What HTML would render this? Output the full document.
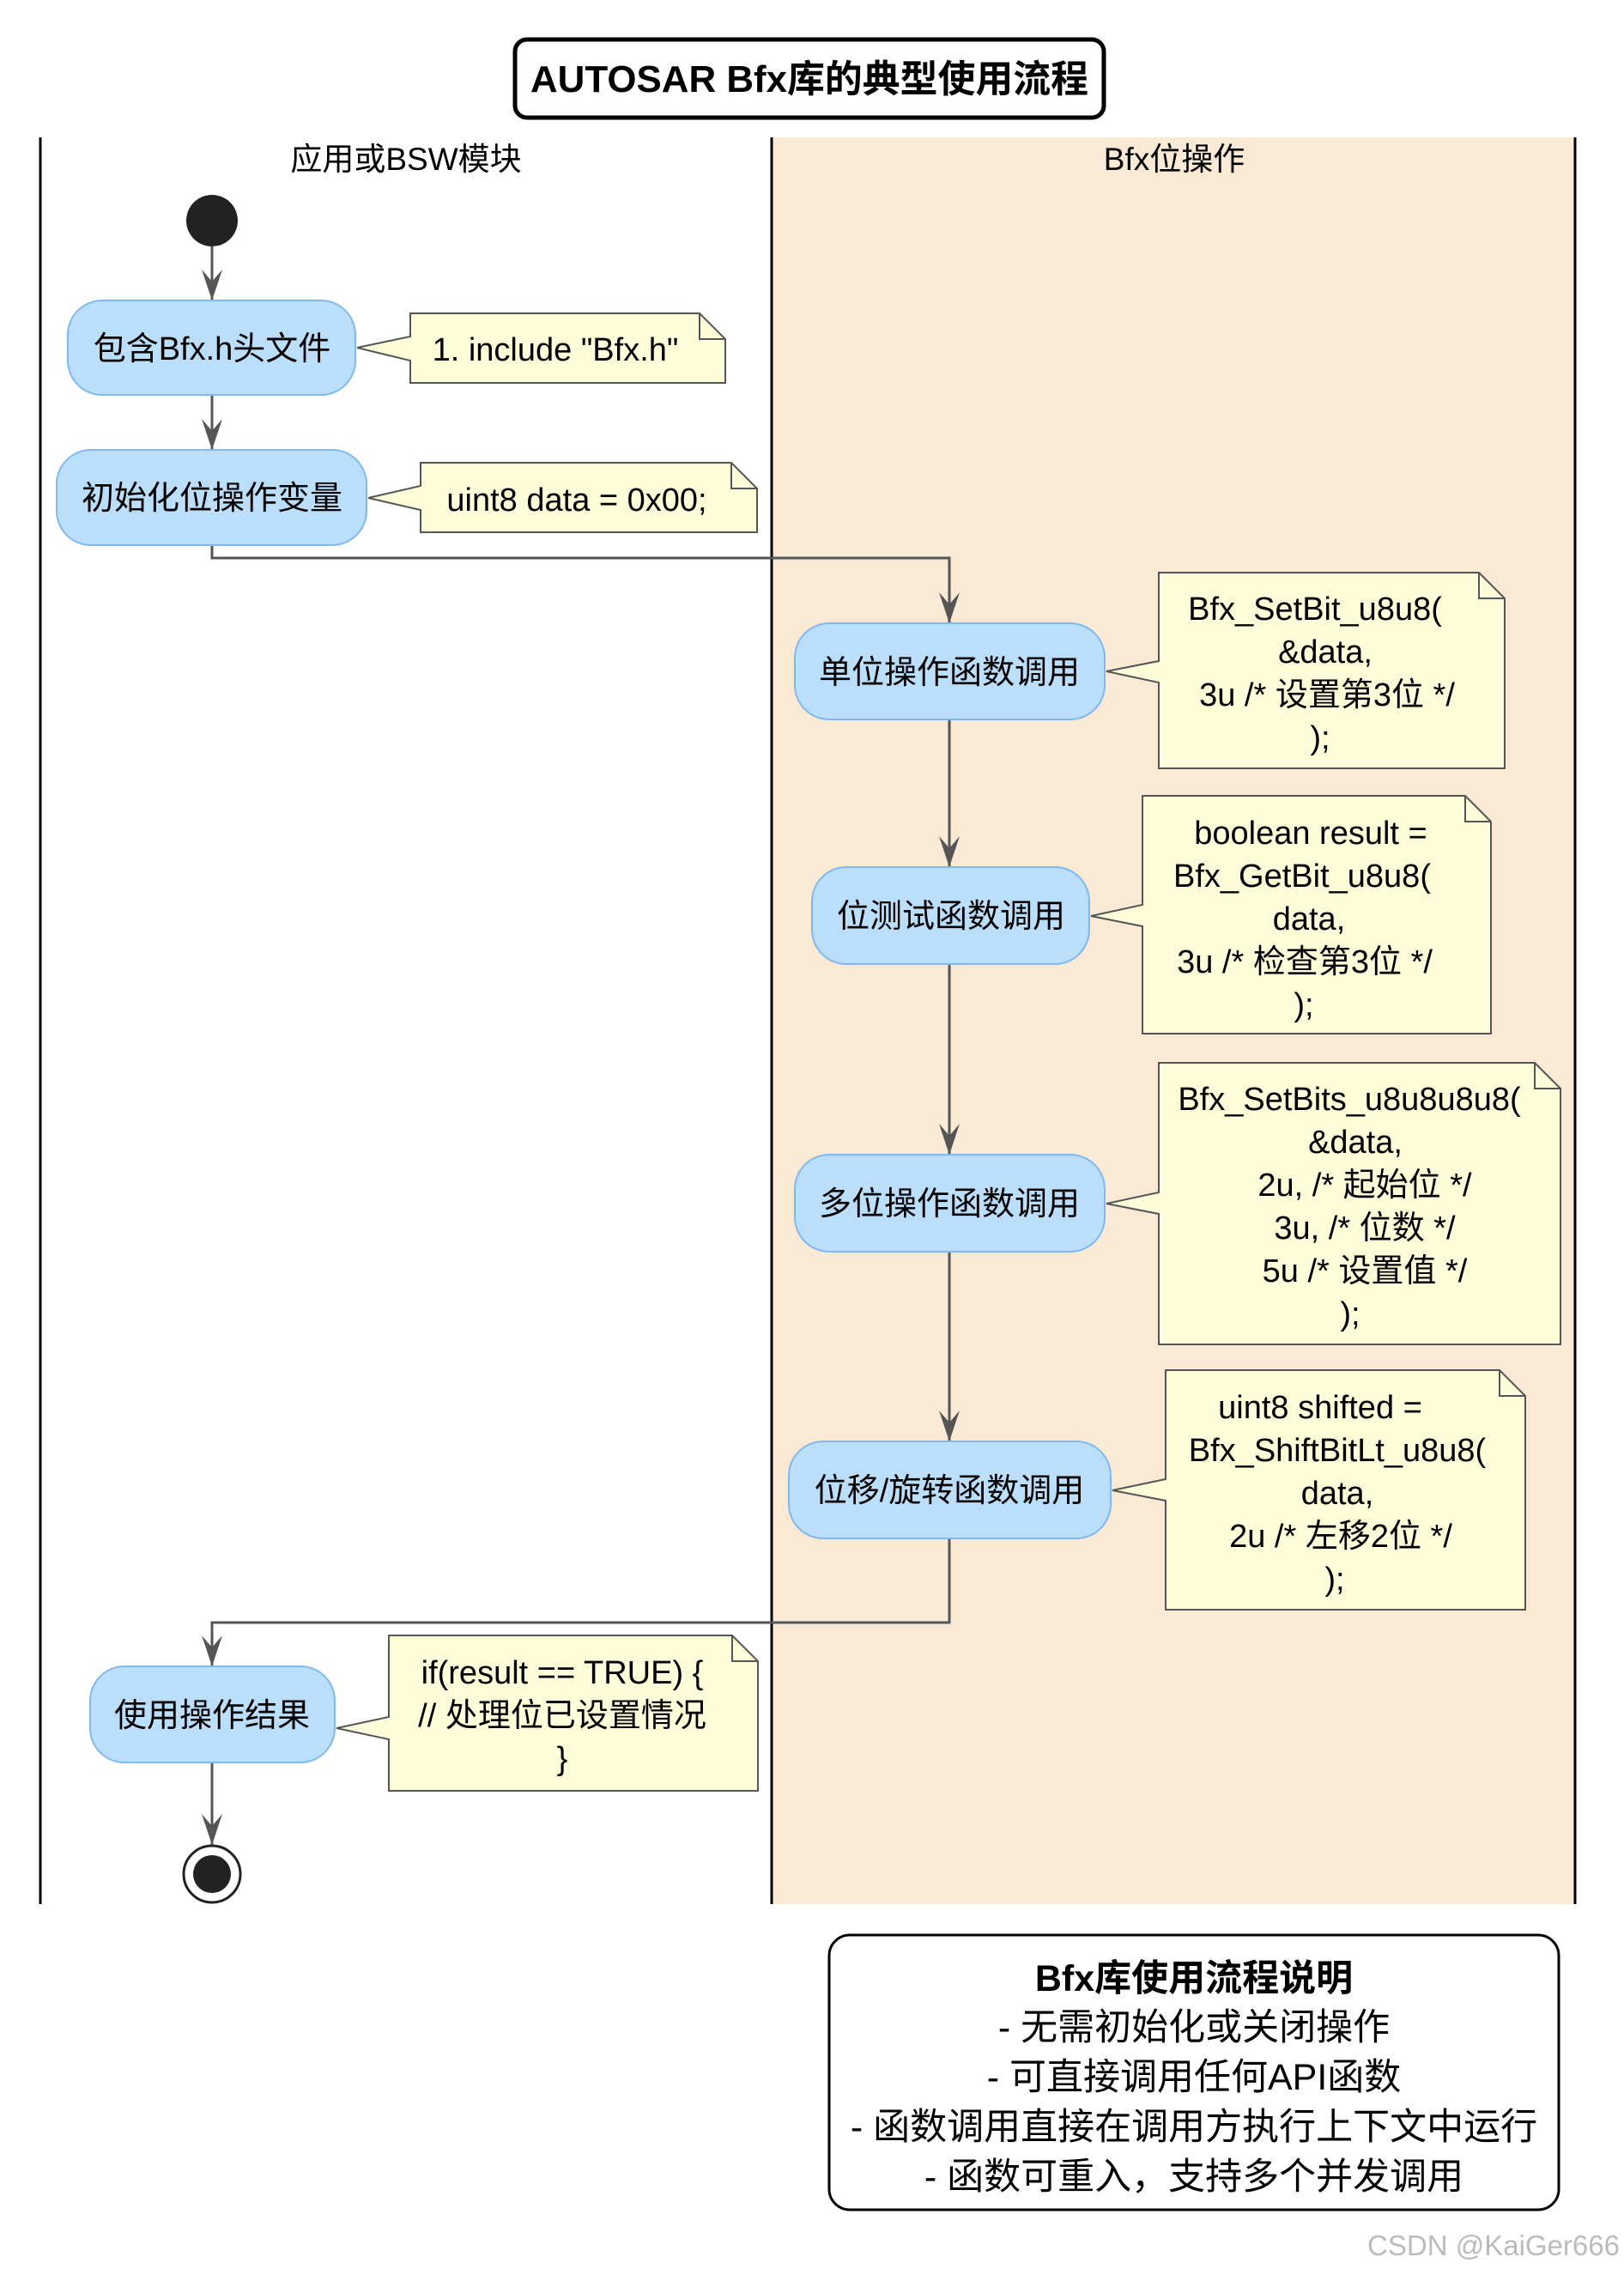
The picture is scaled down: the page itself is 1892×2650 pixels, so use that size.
<!DOCTYPE html>
<html><head><meta charset="utf-8"><style>
html,body{margin:0;padding:0;background:#fff}
svg{display:block}
text{font-family:"Liberation Sans","Noto Sans CJK SC",sans-serif;fill:#000}
</style></head><body>
<svg width="1892" height="2650" viewBox="0 0 1892 2650" xmlns="http://www.w3.org/2000/svg">
<defs>
<g id="ah"><polygon points="-12,-36 0,0 12,-36 0,-22" fill="#555"/></g>
</defs>
<rect x="899" y="160" width="936" height="2058" fill="#f9e9d5"/>
<line x1="47" y1="160" x2="47" y2="2218" stroke="#000" stroke-width="3"/>
<line x1="899" y1="160" x2="899" y2="2218" stroke="#000" stroke-width="3"/>
<line x1="1835" y1="160" x2="1835" y2="2218" stroke="#000" stroke-width="3"/>

<rect x="600" y="46" width="686" height="91" rx="14" fill="#fff" stroke="#000" stroke-width="5"/>
<text x="943" y="107" font-size="44" font-weight="bold" text-anchor="middle" textLength="650" lengthAdjust="spacingAndGlyphs">AUTOSAR Bfx库的典型使用流程</text>

<text x="473" y="198" font-size="37" text-anchor="middle">应用或BSW模块</text>
<text x="1368" y="198" font-size="37" text-anchor="middle">Bfx位操作</text>

<g stroke="#555" stroke-width="3" fill="none">
<line x1="247" y1="287" x2="247" y2="350"/>
<line x1="247" y1="460" x2="247" y2="524"/>
<polyline points="247,635 247,650 1106,650 1106,726"/>
<line x1="1106" y1="838" x2="1106" y2="1010"/>
<line x1="1106" y1="1123" x2="1106" y2="1345"/>
<line x1="1106" y1="1458" x2="1106" y2="1679"/>
<polyline points="1106,1792 1106,1890 247,1890 247,1941"/>
<line x1="247" y1="2053" x2="247" y2="2149"/>
</g>
<use href="#ah" x="247" y="350"/>
<use href="#ah" x="247" y="524"/>
<use href="#ah" x="1106" y="726"/>
<use href="#ah" x="1106" y="1010"/>
<use href="#ah" x="1106" y="1345"/>
<use href="#ah" x="1106" y="1679"/>
<use href="#ah" x="247" y="1941"/>
<use href="#ah" x="247" y="2149"/>

<circle cx="247" cy="257" r="30" fill="#222"/>
<circle cx="247" cy="2183" r="33" fill="#fff" stroke="#222" stroke-width="3"/>
<circle cx="247" cy="2183" r="22" fill="#222"/>

<g fill="#bbdefb" stroke="#7fb9ef" stroke-width="2">
<rect x="79" y="350" width="335" height="110" rx="40"/>
<rect x="66" y="524" width="361" height="111" rx="40"/>
<rect x="926" y="726" width="361" height="112" rx="40"/>
<rect x="946" y="1010" width="323" height="113" rx="40"/>
<rect x="926" y="1345" width="361" height="113" rx="40"/>
<rect x="919" y="1679" width="375" height="113" rx="40"/>
<rect x="105" y="1941" width="285" height="112" rx="40"/>
</g>
<g font-size="38" text-anchor="middle">
<text x="247" y="419">包含Bfx.h头文件</text>
<text x="247" y="593">初始化位操作变量</text>
<text x="1106" y="796">单位操作函数调用</text>
<text x="1108" y="1080">位测试函数调用</text>
<text x="1106" y="1415">多位操作函数调用</text>
<text x="1106" y="1749">位移/旋转函数调用</text>
<text x="247" y="2011">使用操作结果</text>
</g>

<g fill="#fdfdd9" stroke="#555" stroke-width="2">
<path d="M478,365 H815 L845,395 V446 H478 V420 L416,405 L478,392 Z"/>
<path d="M490,539 H852 L882,569 V620 H490 V594 L429,580 L490,566 Z"/>
<path d="M1350,667 H1723 L1753,697 V895 H1350 V795 L1289,782 L1350,770 Z"/>
<path d="M1331,927 H1707 L1737,957 V1204 H1331 V1079 L1271,1067 L1331,1054 Z"/>
<path d="M1350,1238 H1788 L1818,1268 V1566 H1350 V1414 L1289,1402 L1350,1389 Z"/>
<path d="M1358,1596 H1747 L1777,1626 V1875 H1358 V1748 L1296,1736 L1358,1723 Z"/>
<path d="M453,1905 H853 L883,1935 V2086 H453 V2026 L392,2013 L453,2000 Z"/>
</g>
<g fill="none" stroke="#555" stroke-width="2">
<polyline points="815,365 815,395 845,395"/>
<polyline points="852,539 852,569 882,569"/>
<polyline points="1723,667 1723,697 1753,697"/>
<polyline points="1707,927 1707,957 1737,957"/>
<polyline points="1788,1238 1788,1268 1818,1268"/>
<polyline points="1747,1596 1747,1626 1777,1626"/>
<polyline points="853,1905 853,1935 883,1935"/>
</g>
<g font-size="38" text-anchor="middle">
<text x="647" y="420">1. include "Bfx.h"</text>
<text x="672" y="595">uint8 data = 0x00;</text>
<text x="1532" y="722">Bfx_SetBit_u8u8(</text>
<text x="1544" y="772">&amp;data,</text>
<text x="1546" y="822">3u /* 设置第3位 */</text>
<text x="1538" y="872">);</text>
<text x="1527" y="983">boolean result =</text>
<text x="1517" y="1033">Bfx_GetBit_u8u8(</text>
<text x="1525" y="1083">data,</text>
<text x="1520" y="1133">3u /* 检查第3位 */</text>
<text x="1519" y="1183">);</text>
<text x="1572" y="1293">Bfx_SetBits_u8u8u8u8(</text>
<text x="1579" y="1343">&amp;data,</text>
<text x="1590" y="1393">2u, /* 起始位 */</text>
<text x="1590" y="1443">3u, /* 位数 */</text>
<text x="1590" y="1493">5u  /* 设置值 */</text>
<text x="1573" y="1543">);</text>
<text x="1538" y="1652">uint8 shifted =</text>
<text x="1558" y="1702">Bfx_ShiftBitLt_u8u8(</text>
<text x="1558" y="1752">data,</text>
<text x="1562" y="1802">2u /* 左移2位 */</text>
<text x="1555" y="1852">);</text>
<text x="655" y="1961">if(result == TRUE) {</text>
<text x="655" y="2011">// 处理位已设置情况</text>
<text x="655" y="2061">}</text>
</g>

<rect x="966" y="2254" width="850" height="320" rx="24" fill="#fff" stroke="#000" stroke-width="3"/>
<g font-size="43" text-anchor="middle">
<text x="1391" y="2319" font-weight="bold">Bfx库使用流程说明</text>
<text x="1391" y="2376">- 无需初始化或关闭操作</text>
<text x="1391" y="2434">- 可直接调用任何API函数</text>
<text x="1391" y="2492">- 函数调用直接在调用方执行上下文中运行</text>
<text x="1391" y="2550">- 函数可重入，支持多个并发调用</text>
</g>
<text x="1887" y="2627" font-size="33" text-anchor="end" style="fill:#bbb">CSDN @KaiGer666</text>
</svg>
</body></html>
